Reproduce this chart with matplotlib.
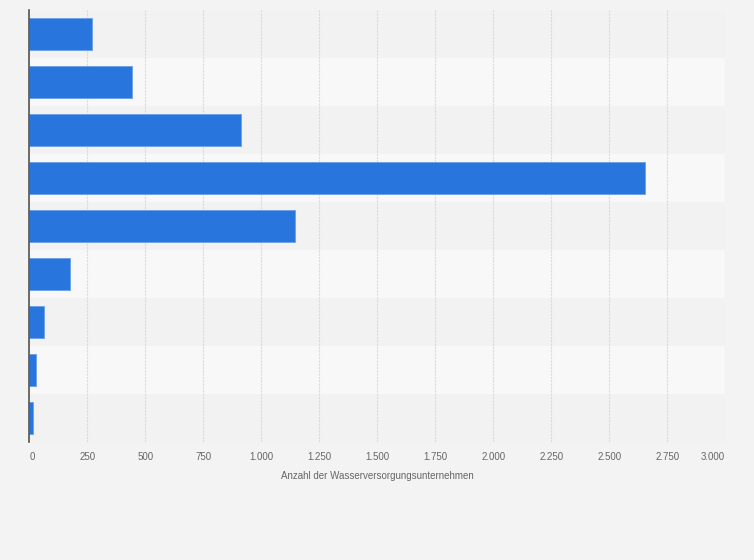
import numpy as np
import matplotlib
matplotlib.use('Agg')
import matplotlib.pyplot as plt

plt.rcParams['font.family'] = ['Liberation Sans', 'DejaVu Sans']

# values (number of water supply companies)
categories = ['k1', 'k2', 'k3', 'k4', 'k5', 'k6', 'k7', 'k8', 'k9']
values = [270, 444, 914, 2654, 1144, 177, 63, 29, 16]
xticks = [0, 250, 500, 750, 1000, 1250, 1500, 1750, 2000, 2250, 2500, 2750, 3000]
xticklabels = ['0', '250', '500', '750', '1.000', '1.250', '1.500', '1.750',
               '2.000', '2.250', '2.500', '2.750', '3.000']
xlabel = 'Anzahl der Wasserversorgungsunternehmen'

BG = '#f3f3f3'
fig = plt.figure(figsize=(7.54, 5.60), dpi=100)
fig.patch.set_facecolor(BG)
ax = fig.add_axes([29.3/754, 1-442/560, 696/754, 432/560])
ax.set_facecolor(BG)

y = np.arange(len(categories))
# alternating row bands
for i in y:
    ax.axhspan(i-0.5, i+0.5, color='#f2f2f2' if i % 2 == 0 else '#f8f8f8', lw=0, zorder=0)

ax.barh(y, values, height=0.68, color='#2876dd', edgecolor='#6a9fe6', lw=0.6, zorder=3)

ax.set_xlim(0, 3000)
ax.set_ylim(len(categories)-0.5, -0.5)
ax.set_yticks([])
ax.set_xticks(xticks)
ax.set_xticklabels(xticklabels, fontsize=7, color='#666666')
lbls = ax.get_xticklabels()
lbls[0].set_ha('left')
lbls[-1].set_ha('right')
ax.tick_params(axis='x', length=0, pad=7.5)
ax.grid(axis='x', color='#dadada', ls=(0, (2, 1)), lw=0.8, zorder=1)
ax.set_axisbelow(True)

for s in ['top', 'right', 'bottom']:
    ax.spines[s].set_visible(False)
ax.spines['left'].set_color('#555555')
ax.spines['left'].set_linewidth(1.2)
ax.spines['left'].set_zorder(4)

ax.set_xlabel(xlabel, fontsize=7, color='#666666', labelpad=6)

fig.savefig('out.png', dpi=100, facecolor=BG)
